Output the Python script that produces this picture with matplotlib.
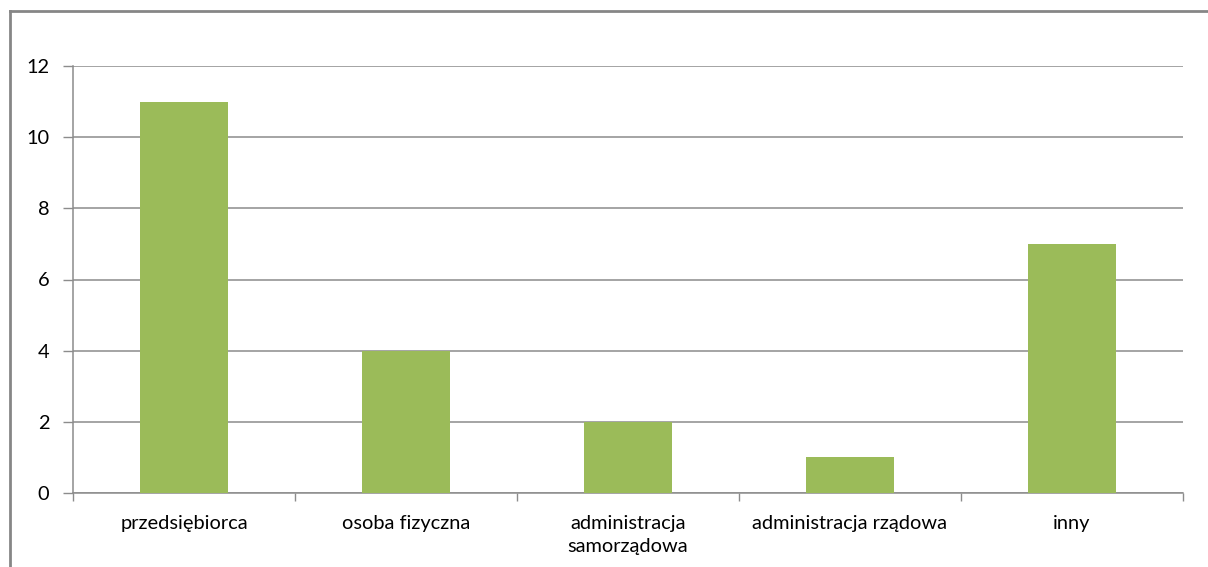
import matplotlib.pyplot as plt
from matplotlib.lines import Line2D

kategorie = ["przedsiębiorca", "osoba fizyczna", "administracja\nsamorządowa",
             "administracja rządowa", "inny"]
wartosci = [11, 4, 2, 1, 7]
y_ticki = [0, 2, 4, 6, 8, 10, 12]

plt.rcParams['font.family'] = ['Lato', 'DejaVu Sans']

fig = plt.figure(figsize=(12.08, 5.67), dpi=100)
ax = fig.add_axes([73/1208, 1 - 493/567, (1183 - 73)/1208, (493 - 66)/567])

x = list(range(len(kategorie)))
ax.bar(x, wartosci, width=0.4, color="#9BBB59", zorder=3)

ax.set_xlim(-0.5, len(kategorie) - 0.5)
ax.set_ylim(0, 12)
ax.set_yticks(y_ticki)
ax.set_yticklabels([str(v) for v in y_ticki], fontsize=14.4, color="#000000")
ax.yaxis.grid(True, color="#8c8c8c", linewidth=1.1, zorder=0)

ax.set_xticks(x)
ax.set_xticklabels(kategorie, fontsize=14.4, color="#000000", linespacing=1.4)
ax.set_xticks([i - 0.5 for i in range(len(kategorie) + 1)], minor=True)
ax.tick_params(axis='x', which='major', length=0, pad=16)
ax.tick_params(axis='x', which='minor', length=6, color="#8c8c8c", width=1)
ax.tick_params(axis='y', length=7, color="#8c8c8c", width=1, pad=10)

for s in ['top', 'right']:
    ax.spines[s].set_visible(False)
for s in ['left', 'bottom']:
    ax.spines[s].set_color("#8c8c8c")
    ax.spines[s].set_linewidth(1.1)

# ramka wykresu (lewa i gorna krawedz)
fig.add_artist(Line2D([10/1208, 10/1208], [0, 1 - 10.5/567], transform=fig.transFigure,
                      color="#868686", linewidth=2))
fig.add_artist(Line2D([10/1208, 1], [1 - 10.5/567, 1 - 10.5/567], transform=fig.transFigure,
                      color="#868686", linewidth=2))

fig.savefig("out.png", dpi=100)
